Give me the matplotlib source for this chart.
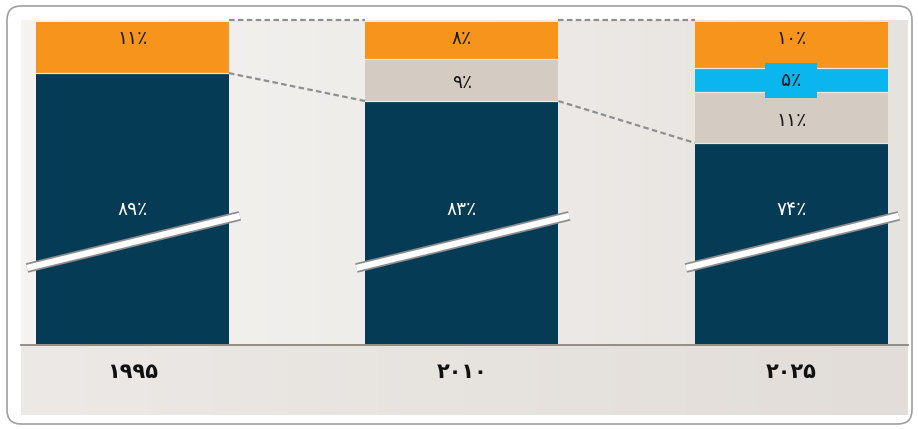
import numpy as np
import matplotlib.pyplot as plt
from matplotlib.patches import FancyBboxPatch, Rectangle
from matplotlib.transforms import blended_transform_factory

plt.rcParams['font.family'] = ['DejaVu Sans']

years = ['۱۹۹۵', '۲۰۱۰', '۲۰۲۵']
dark = [89, 83, 74]
grey = [0, 9, 11]
cyan = [0, 0, 5]
orange = [11, 8, 10]
dark_lbl = ['۸۹٪', '۸۳٪', '۷۴٪']
grey_lbl = ['', '۹٪', '۱۱٪']
cyan_lbl = ['', '', '۵٪']
orange_lbl = ['۱۱٪', '۸٪', '۱۰٪']

navy = '#053b54'
c_grey = '#d4cbc3'
c_cyan = '#0bb5ee'
c_orange = '#f7941c'

W, H = 918, 429
fig = plt.figure(figsize=(W / 100, H / 100), dpi=100)
fig.patch.set_facecolor('white')

# background layer in pixel units
bg = fig.add_axes([0, 0, 1, 1])
bg.axis('off')
grad = np.linspace(0, 1, 256)[None, :]
cmap = plt.matplotlib.colors.LinearSegmentedColormap.from_list('bg', ['#f5f4f2', '#e6e2de'])
bg.imshow(grad, extent=(21, 908, 344, 20), cmap=cmap, aspect='auto')
cmap2 = plt.matplotlib.colors.LinearSegmentedColormap.from_list('bg2', ['#ece9e6', '#e2ddd8'])
bg.imshow(grad, extent=(21, 908, 415, 344), cmap=cmap2, aspect='auto')
bg.plot([21, 908], [344.5, 344.5], color='#8b8680', lw=1.3)
bg.add_patch(FancyBboxPatch((7, 6), 905, 418, boxstyle='round,pad=0,rounding_size=14',
                            fill=False, edgecolor='#a0a0a0', lw=1.2))
bg.set_xlim(0, W)
bg.set_ylim(H, 0)

# chart axes (axis is cut at the bottom -> broken bars)
ax = fig.add_axes([21 / W, (H - 344) / H, (908 - 21) / W, (344 - 22) / H])
ax.axis('off')
ax.set_xlim(-0.338, 2.354)
ax.set_ylim(30.75, 100)

x = np.arange(len(years))
w = 0.586
b1 = np.array(dark)
b2 = b1 + np.array(grey)
b3 = b2 + np.array(cyan)
ax.bar(x, dark, w, color=navy)
ax.bar(x, grey, w, bottom=b1, color=c_grey)
ax.bar(x, cyan, w, bottom=b2, color=c_cyan)
ax.bar(x, orange, w, bottom=b3, color=c_orange)
# thin light seams between segments
for b in (b1, b2, b3):
    for i in range(len(years)):
        if b[i] < 100 and (b is b1 or b[i] != (b1 if b is b2 else b2)[i]):
            ax.plot([x[i] - w / 2, x[i] + w / 2], [b[i], b[i]], color='#ece8e3', lw=0.9)

# dashed connectors
for i in range(len(years) - 1):
    xa, xb = x[i] + w / 2, x[i + 1] - w / 2
    ax.plot([xa, xb], [100.4, 100.4], color='#8f8f8f', lw=1.6, ls=(0, (2.5, 1.5)), clip_on=False)
    ax.plot([xa, xb], [dark[i], dark[i + 1]], color='#8f8f8f', lw=1.6, ls=(0, (2.5, 1.5)))

# segment labels
for i in range(len(years)):
    ax.text(x[i], 96.4, orange_lbl[i], ha='center', va='center', fontsize=13.5, color='#1a1a1a')
    if grey[i]:
        ax.text(x[i], b1[i] + grey[i] / 2 - 0.6, grey_lbl[i], ha='center', va='center', fontsize=13.5, color='#1a1a1a')
    if cyan[i]:
        ax.add_patch(Rectangle((x[i] - 0.079, b2[i] + cyan[i] / 2 - 3.75), 0.158, 7.5,
                               color=c_cyan, lw=0, zorder=3))
        ax.text(x[i], b2[i] + cyan[i] / 2, cyan_lbl[i], ha='center', va='center', fontsize=13.5,
                color='#1a1a1a', zorder=4)

trans = blended_transform_factory(ax.transData, ax.transAxes)
for i in range(len(years)):
    ax.text(x[i], 0.418, dark_lbl[i], transform=trans, ha='center', va='center', fontsize=13.5, color='white')
    ax.text(x[i], -0.087, years[i], transform=trans, ha='center', va='center', fontsize=15,
            fontweight='bold', color='#111111', clip_on=False)
    # break marks
    xs = [x[i] - w / 2 - 0.027, x[i] + w / 2 + 0.033]
    ys = [47.1, 58.3]
    ax.plot(xs, ys, color='#8d8d8d', lw=7, solid_capstyle='butt', clip_on=False)
    ax.plot(xs, ys, color='white', lw=4.5, solid_capstyle='butt', clip_on=False)

fig.savefig('out.png', dpi=100)
